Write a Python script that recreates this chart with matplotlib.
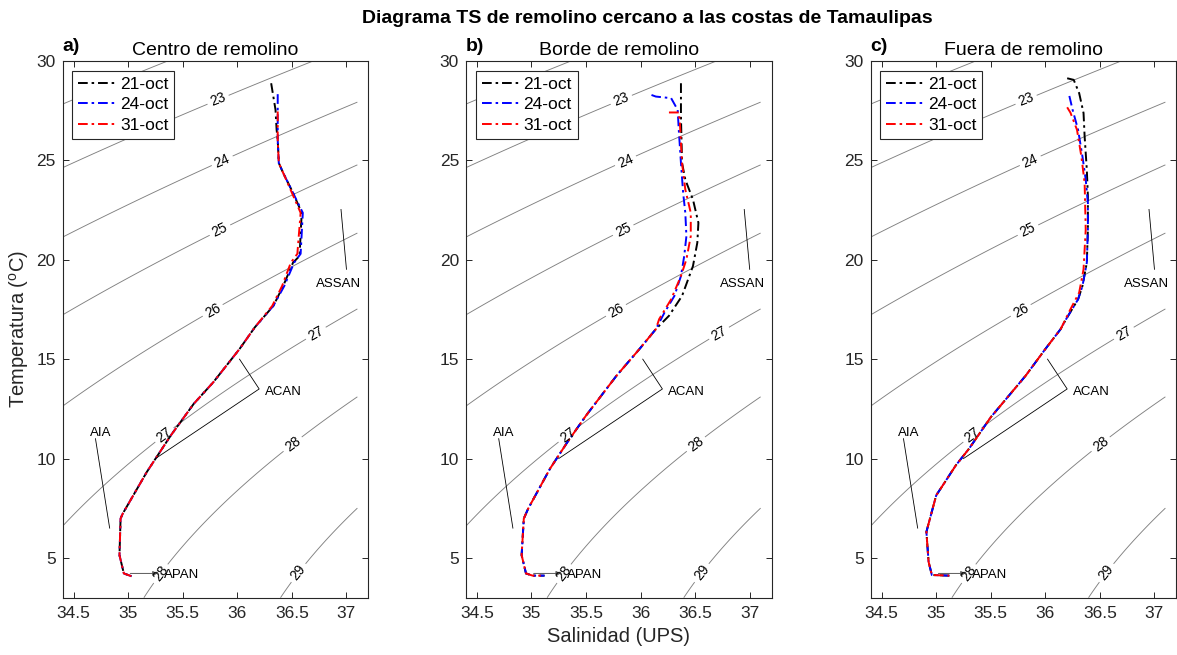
import numpy as np
import matplotlib.pyplot as plt

plt.rcParams['font.family'] = ['Liberation Sans', 'DejaVu Sans']
plt.rcParams['mathtext.fontset'] = 'custom'
plt.rcParams['mathtext.rm'] = 'Liberation Sans'
plt.rcParams['mathtext.it'] = 'Liberation Sans:italic'

# ---- perfiles TS (salinidad UPS, temperatura C) ----
# a) centro de remolino, parte superior de cada fecha
a_s_21 = [36.31, 36.35, 36.36, 36.37, 36.38, 36.42, 36.51, 36.59, 36.57, 36.51, 36.42, 36.33, 36.16]
a_t_21 = [28.88, 27.54, 26.54, 26.04, 24.87, 24.37, 23.37, 22.36, 20.19, 19.85, 18.68, 17.68, 16.60]
a_s_24 = [36.37, 36.37, 36.37, 36.38, 36.42, 36.51, 36.60, 36.58, 36.52, 36.43, 36.33, 36.16]
a_t_24 = [28.33, 27.50, 26.04, 24.87, 24.37, 23.37, 22.36, 20.30, 19.85, 18.68, 17.68, 16.60]
a_s_31 = [36.37, 36.37, 36.38, 36.42, 36.50, 36.58, 36.55, 36.49, 36.41, 36.32, 36.16]
a_t_31 = [27.46, 26.04, 24.87, 24.37, 23.37, 22.36, 20.30, 19.85, 18.68, 17.68, 16.60]
# a) parte inferior comun
a_s_low = [36.16, 36.02, 35.78, 35.60, 35.39, 35.25, 35.17, 34.95, 34.93, 34.92, 34.96, 35.03]
a_t_low = [16.60, 15.51, 13.84, 12.75, 11.16, 9.99, 9.32, 7.23, 6.98, 5.14, 4.22, 4.08]

# b) borde de remolino
b_s_21 = [36.37, 36.37, 36.38, 36.41, 36.48, 36.53, 36.52, 36.48, 36.38, 36.26, 36.14]
b_t_21 = [28.88, 27.20, 24.87, 24.03, 23.03, 21.86, 20.86, 19.68, 18.18, 17.18, 16.51]
b_s_24 = [36.10, 36.14, 36.28, 36.34, 36.35, 36.37, 36.39, 36.41, 36.42, 36.40, 36.37, 36.31, 36.22, 36.14]
b_t_24 = [28.29, 28.21, 28.13, 27.54, 26.54, 24.87, 23.37, 22.36, 21.19, 20.19, 19.18, 18.18, 17.35, 16.51]
b_s_31 = [36.26, 36.35, 36.36, 36.38, 36.41, 36.46, 36.46, 36.42, 36.37, 36.28, 36.17, 36.14]
b_t_31 = [27.41, 27.41, 26.90, 24.87, 23.53, 22.36, 21.19, 20.02, 19.18, 18.01, 17.01, 16.51]
b_s_low = [36.14, 35.99, 35.78, 35.50, 35.33, 35.17, 34.97, 34.93, 34.91, 34.95, 35.01, 35.12]
b_t_low = [16.51, 15.51, 14.17, 12.16, 10.83, 9.49, 7.48, 6.98, 5.14, 4.22, 4.11, 4.11]

# c) fuera de remolino
c_s_21 = [36.20, 36.26, 36.31, 36.35, 36.36, 36.38, 36.39, 36.39, 36.38, 36.34, 36.30, 36.19, 36.14]
c_t_21 = [29.13, 29.05, 28.38, 27.38, 26.20, 24.53, 23.20, 21.52, 19.85, 18.68, 18.01, 17.01, 16.51]
c_s_24 = [36.22, 36.25, 36.30, 36.34, 36.37, 36.39, 36.39, 36.38, 36.34, 36.30, 36.19, 36.14]
c_t_24 = [28.24, 27.54, 26.54, 25.20, 24.03, 22.86, 21.52, 19.85, 18.68, 18.01, 17.01, 16.51]
c_s_31 = [36.20, 36.23, 36.29, 36.33, 36.36, 36.37, 36.35, 36.31, 36.23, 36.14]
c_t_31 = [27.67, 27.40, 26.54, 25.20, 23.87, 21.52, 19.52, 18.35, 17.51, 16.51]
c_s_low = [36.14, 36.00, 35.82, 35.50, 35.30, 35.18, 35.06, 35.00, 34.91, 34.93, 34.96, 35.12]
c_t_low = [16.51, 15.51, 14.17, 12.08, 10.49, 9.66, 8.65, 8.15, 6.31, 4.81, 4.14, 4.11]

fechas = ['21-oct', '24-oct', '31-oct']
colores = ['k', 'b', 'r']
titulos = ['Centro de remolino', 'Borde de remolino', 'Fuera de remolino']
letras = ['a)', 'b)', 'c)']

paneles = [
    ([a_s_21, a_s_24, a_s_31], [a_t_21, a_t_24, a_t_31], a_s_low, a_t_low),
    ([b_s_21, b_s_24, b_s_31], [b_t_21, b_t_24, b_t_31], b_s_low, b_t_low),
    ([c_s_21, c_s_24, c_s_31], [c_t_21, c_t_24, c_t_31], c_s_low, c_t_low),
]

niveles_sin = [21, 22]
niveles_etiq = [23, 24, 25, 26, 27, 28, 29, 30]
pos_etiq = [(35.82, 28.1), (35.86, 25.0), (35.84, 21.5), (35.77, 17.5),
            (36.72, 16.3), (35.33, 11.2), (36.51, 10.7), (35.30, 4.2), (36.57, 4.2)]


def sigma_t(s, t):
    # EOS-80 a presion superficial, densidad - 1000
    rw = (999.842594 + 6.793952e-2 * t - 9.095290e-3 * t**2 + 1.001685e-4 * t**3
          - 1.120083e-6 * t**4 + 6.536332e-9 * t**5)
    a = 8.24493e-1 - 4.0899e-3 * t + 7.6438e-5 * t**2 - 8.2467e-7 * t**3 + 5.3875e-9 * t**4
    b = -5.72466e-3 + 1.0227e-4 * t - 1.6546e-6 * t**2
    c = 4.8314e-4
    return rw + a * s + b * s**1.5 + c * s**2 - 1000.0


sg, tg = np.meshgrid(np.linspace(34.4, 37.1, 300), np.linspace(3, 30, 300))
dens = sigma_t(sg, tg)

estilo = (0, (5, 2, 1.3, 2))

fig = plt.figure(figsize=(11.77, 6.55), dpi=100)
lefts = [0.0533, 0.3959, 0.7398]

for i, (ss, ts, s_low, t_low) in enumerate(paneles):
    ax = fig.add_axes([lefts[i], 0.0875, 0.2596, 0.8194])

    ax.contour(sg, tg, dens, levels=niveles_sin, colors='0.5', linewidths=0.65)
    cs = ax.contour(sg, tg, dens, levels=niveles_etiq, colors='0.5', linewidths=0.65)
    ax.clabel(cs, manual=pos_etiq, inline=True, fontsize=10,
              fmt='%d', colors='k', inline_spacing=4)

    for s, t, fecha, col in zip(ss, ts, fechas, colores):
        ax.plot(s + s_low[1:], t + t_low[1:], color=col, linestyle=estilo,
                linewidth=1.4, label=fecha)

    # masas de agua
    ax.plot([36.95, 37.0], [22.53, 19.52], color='k', lw=0.6)
    ax.text(36.93, 18.77, 'ASSAN', ha='center', va='center', fontsize=9.5)
    ax.plot([36.02, 36.2, 35.25], [15.0, 13.5, 10.0], color='k', lw=0.6)
    ax.text(36.25, 13.37, 'ACAN', ha='left', va='center', fontsize=9.5)
    ax.plot([34.70, 34.83], [11.0, 6.5], color='k', lw=0.6)
    ax.text(34.75, 11.3, 'AIA', ha='center', va='center', fontsize=9.5)
    ax.annotate('', xy=(35.27, 4.22), xytext=(35.02, 4.22),
                arrowprops=dict(arrowstyle='-|>', color='0.35', lw=0.7,
                                mutation_scale=7, shrinkA=0, shrinkB=0))
    ax.text(35.33, 4.14, 'APAN', ha='left', va='center', fontsize=9.5)

    ax.set_xlim(34.4, 37.2)
    ax.set_ylim(3, 30)
    ax.set_xticks([34.5, 35, 35.5, 36, 36.5, 37])
    ax.set_xticklabels(['34.5', '35', '35.5', '36', '36.5', '37'])
    ax.set_yticks([5, 10, 15, 20, 25, 30])
    ax.tick_params(direction='in', top=True, right=True, length=4, width=0.7,
                   labelsize=12.5, colors='0.15')
    ax.tick_params(axis='x', pad=6)
    ax.tick_params(axis='y', pad=5)
    for sp in ax.spines.values():
        sp.set_color('0.15')
        sp.set_linewidth(0.8)

    ax.set_title(titulos[i], fontsize=14, pad=4)
    ax.text(0.0, 1.012, letras[i], transform=ax.transAxes, ha='left',
            va='bottom', fontsize=14, fontweight='bold')

    leg = ax.legend(loc='upper left', fontsize=12.5, handlelength=2.3,
                    handletextpad=0.1, labelspacing=0.32, borderpad=0.35,
                    borderaxespad=0.55, fancybox=False, framealpha=1,
                    edgecolor='0.15')
    leg.get_frame().set_linewidth(0.8)

    if i == 0:
        ax.set_ylabel(r'Temperatura ($^{\mathrm{o}}$C)', fontsize=14.5, color='0.15')
    if i == 1:
        ax.set_xlabel('Salinidad (UPS)', fontsize=14.5, color='0.15')

fig.text(0.55, 0.972, 'Diagrama TS de remolino cercano a las costas de Tamaulipas',
         ha='center', va='center', fontsize=14, fontweight='bold')

fig.savefig('out.png', dpi=100)
